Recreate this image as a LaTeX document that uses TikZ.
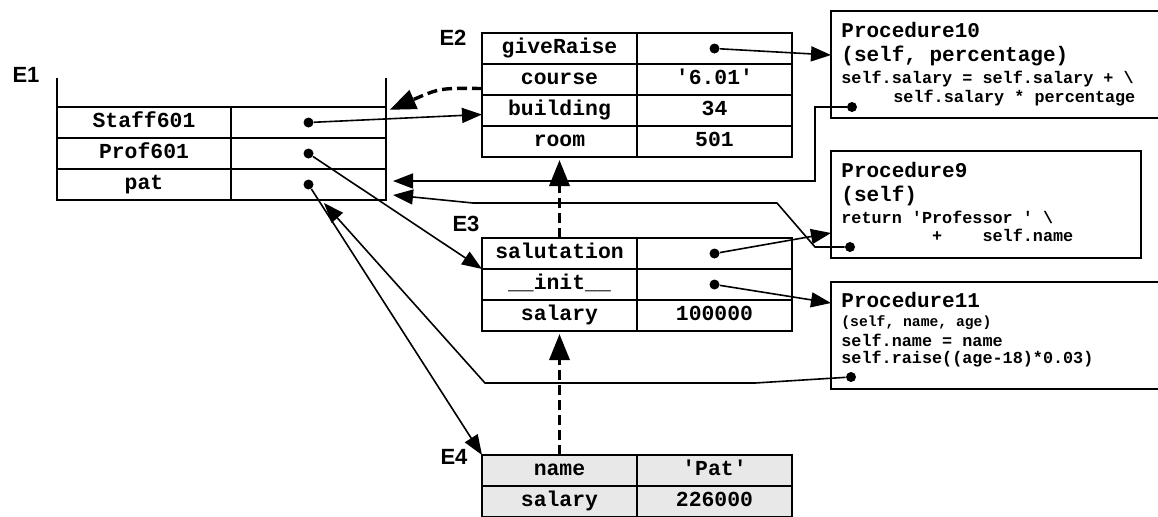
\documentclass[tikz,border=0pt]{standalone}
\usepackage{fontspec}
\setmonofont{Liberation Mono}
\setsansfont{Liberation Sans}
\usetikzlibrary{arrows.meta,calc}

\begin{document}
\begin{tikzpicture}[x=0.5pt,y=-0.5pt,
    cell/.style={draw,line width=1pt,outer sep=0pt,inner sep=0pt,anchor=north west,
      minimum width=77.5pt,minimum height=15.5pt,text height=6.4pt,text depth=1.3pt,
      font=\ttfamily\bfseries\fontsize{10.7}{12}\selectfont},
    envlabel/.style={font=\sffamily\bfseries\fontsize{11}{13}\selectfont},
    procbox/.style={draw,line width=1pt,outer sep=0pt,anchor=north west,minimum height=53.5pt},
    proccode/.style={anchor=base west,inner sep=0pt,font=\ttfamily\bfseries\fontsize{8.4}{10}\selectfont},
    proctitle/.style={proccode,font=\ttfamily\bfseries\fontsize{10.5}{12}\selectfont},
    ptrdot/.style={circle,fill,inner sep=0pt,minimum size=5pt},
    bindarrow/.style={line width=0.8pt,-{Triangle[length=10pt,width=7.5pt]}},
    envlink/.style={line width=1.7pt,dash pattern=on 5pt off 2.5pt,
      -{Triangle[length=13pt,width=10pt]},shorten >=1.5pt}]
    \useasboundingbox (0,0) rectangle (1158,516);

    % Frame E1
    \node[envlabel] (e1) at (26,75) {E1};
    \foreach \k [count=\i] in {Staff601,Prof601,pat} {
        \node[cell,minimum width=87pt] (e1k\i) at (57,{76+31*\i}) {\k};
        \node[cell] (e1v\i) at (e1k\i.north east) {};
        \node[ptrdot] (e1d\i) at (e1v\i) {};
    }
    \draw[line width=1pt] (e1k1.north west) -- ++(0,-29);
    \draw[line width=1pt] (e1v1.north east) -- ++(0,-29);

    % Frame E2
    \node[envlabel] (e2) at (453,38) {E2};
    \foreach \k/\v [count=\i] in {giveRaise/{},course/'6.01',building/34,room/501} {
        \node[cell] (e2k\i) at (482,{2+31*\i}) {\k};
        \node[cell] (e2v\i) at (e2k\i.north east) {\v};
    }
    \node[ptrdot] (e2d1) at (e2v1) {};

    % Frame E3
    \node[envlabel] (e3) at (466,224) {E3};
    \foreach \k/\v [count=\i] in {salutation/{},\_\_init\_\_/{},salary/100000} {
        \node[cell] (e3k\i) at (482,{207+31*\i}) {\k};
        \node[cell] (e3v\i) at (e3k\i.north east) {\v};
    }
    \node[ptrdot] (e3d1) at (e3v1) {};
    \node[ptrdot] (e3d2) at (e3v2) {};

    % Frame E4
    \node[envlabel] (e4) at (454,457) {E4};
    \foreach \k/\v [count=\i] in {name/'Pat',salary/226000} {
        \node[cell,fill=gray!18] (e4k\i) at (482,{424+31*\i}) {\k};
        \node[cell,fill=gray!18] (e4v\i) at (e4k\i.north east) {\v};
    }

    % Procedure10
    \node[procbox,minimum width=167pt] (p10) at (831,11) {};
    \node[proctitle] (p10l1) at (841,37) {Procedure10};
    \node[proctitle] (p10l2) at (841,61) {(self, percentage)};
    \node[proccode] (p10l3) at (841,83) {self.salary = self.salary + \textbackslash};
    \node[proccode] (p10l4) at (893,102) {self.salary * percentage};
    \node[ptrdot] (p10d) at (852,107) {};

    % Procedure9
    \node[procbox,minimum width=155pt] (p9) at (831,151) {};
    \node[proctitle] (p9l1) at (841,177) {Procedure9};
    \node[proctitle] (p9l2) at (841,201) {(self)};
    \node[proccode] (p9l3) at (841,223) {return 'Professor ' \textbackslash};
    \node[proccode] (p9l4) at (841,241) {\phantom{xxxxxxxxx}+\phantom{xxxx}self.name};
    \node[ptrdot] (p9d) at (850,247) {};

    % Procedure11
    \node[procbox,minimum width=167pt] (p11) at (831,282) {};
    \node[proctitle] (p11l1) at (841,307) {Procedure11};
    \node[proccode,font=\ttfamily\bfseries\fontsize{7.35}{9}\selectfont] (p11l2) at (841,326) {(self, name, age)};
    \node[proccode] (p11l3) at (841,346) {self.name = name};
    \node[proccode] (p11l4) at (841,363) {self.raise((age-18)*0.03)};
    \node[ptrdot] (p11d) at (851,377) {};

    % Bindings
    \draw[bindarrow] (e1d1) -- ($(e2k3.west)+(0,4)$);
    \draw[bindarrow] (e1d2) -- (e3k1.south west);
    \draw[bindarrow] (e1d3) -- (e4k1.north west);
    \draw[bindarrow] (e2d1) -- ($(p10.north west)+(0,44)$);
    \draw[bindarrow] (e3d1) -- ($(p9.north west)+(0,82)$);
    \draw[bindarrow] (e3d2) -- ($(p11.north west)+(0,21)$);

    % Procedure environments
    \coordinate (e1in1) at (393,181);
    \coordinate (e1in2) at (393,195);
    \coordinate (e1in3) at (324,203);
    \draw[bindarrow] (p10d) -- ++(-37,0) |- (e1in1);
    \draw[bindarrow] (p9d) -- ++(-35,0) -- ++(-38,-44) -- ++(-304,0) -- (e1in2);
    \draw[bindarrow] (p11d) -- ++(-96,6) -- ++(-270,0) -- (e1in3);

    % Parent frames
    \draw[envlink] ($(e2k2.west)+(0,9)$) .. controls (440,88) .. ($(e1v1.north east)+(1,4)$);
    \draw[envlink] (e3k1.north) -- (e2k4.south);
    \draw[envlink] (e4k1.north) -- (e3k3.south);
\end{tikzpicture}
\end{document}
